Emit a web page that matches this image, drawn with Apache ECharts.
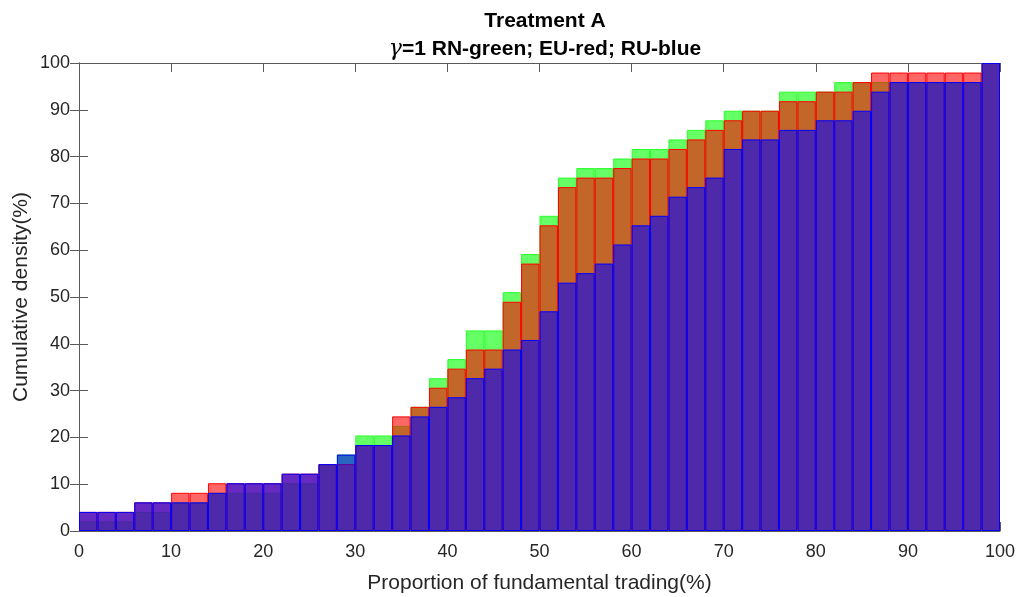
<!DOCTYPE html>
<html>
<head>
<meta charset="utf-8">
<script src="https://cdn.jsdelivr.net/npm/echarts@6/dist/echarts.min.js"></script>
<style>html,body{margin:0;padding:0;background:#fff;}#c{width:1021px;height:597px;}</style>
</head>
<body>
<div id="c"></div>
<script>
// Bins of width 2 over 0..100 (labels = bin ranges)
const binLabels = ['0-2','2-4','4-6','6-8','8-10','10-12','12-14','14-16','16-18','18-20',
  '20-22','22-24','24-26','26-28','28-30','30-32','32-34','34-36','36-38','38-40',
  '40-42','42-44','44-46','46-48','48-50','50-52','52-54','54-56','56-58','58-60',
  '60-62','62-64','64-66','66-68','68-70','70-72','72-74','74-76','76-78','78-80',
  '80-82','82-84','84-86','86-88','88-90','90-92','92-94','94-96','96-98','98-100'];

// RN (green) cumulative density, %
const rnGreen = [2.04,2.04,2.04,4.08,4.08,6.12,6.12,8.16,8.16,8.16,
  8.16,10.20,10.20,14.29,16.33,20.41,20.41,22.45,26.53,32.65,
  36.73,42.86,42.86,51.02,59.18,67.35,75.51,77.55,77.55,79.59,
  81.63,81.63,83.67,85.71,87.76,89.80,89.80,89.80,93.88,93.88,
  93.88,95.92,95.92,95.92,95.92,95.92,95.92,95.92,95.92,100];

// EU (red) cumulative density, %
const euRed = [4.08,4.08,4.08,6.12,6.12,8.16,8.16,10.20,10.20,10.20,
  10.20,12.24,12.24,14.29,14.29,18.37,18.37,24.49,26.53,30.61,
  34.69,38.78,38.78,48.98,57.14,65.31,73.47,75.51,75.51,77.55,
  79.59,79.59,81.63,83.67,85.71,87.76,89.80,89.80,91.84,91.84,
  93.88,93.88,95.92,97.96,97.96,97.96,97.96,97.96,97.96,100];

// RU (blue) cumulative density, %
const ruBlue = [4.08,4.08,4.08,6.12,6.12,6.12,6.12,8.16,10.20,10.20,
  10.20,12.24,12.24,14.29,16.33,18.37,18.37,20.41,24.49,26.53,
  28.57,32.65,34.69,38.78,40.82,46.94,53.06,55.10,57.14,61.22,
  65.31,67.35,71.43,73.47,75.51,81.63,83.67,83.67,85.71,85.71,
  87.76,87.76,89.80,93.88,95.92,95.92,95.92,95.92,95.92,100];

const xTicks = {min: 0, max: 100, interval: 10};
const yTicks = {min: 0, max: 100, interval: 10};

const chart = echarts.init(document.getElementById('c'), null, {renderer: 'canvas'});
const axisCol = '#5a5a5a';
const labCol = '#262626';
const font = 'Liberation Sans, Arial, Helvetica, sans-serif';

function barSeries(name, data, fill, edge) {
  return {
    name, type: 'bar', data, xAxisIndex: 0, yAxisIndex: 0,
    barGap: '-100%', barCategoryGap: '0%',
    itemStyle: {color: fill, borderColor: edge, borderWidth: 1},
    emphasis: {disabled: true}
  };
}

chart.setOption({
  animation: false,
  backgroundColor: '#fff',
  textStyle: {fontFamily: font},
  title: [
    {text: 'Treatment A', left: 540, textAlign: 'center', top: 6,
     textStyle: {fontSize: 21, fontWeight: 'bold', color: '#000', fontFamily: font}},
    {text: '{g|γ}=1 RN-green; EU-red; RU-blue', left: 540, textAlign: 'center', top: 33,
     textStyle: {fontSize: 21, fontWeight: 'bold', color: '#000', fontFamily: font,
       rich: {g: {fontSize: 22, fontStyle: 'italic', fontWeight: 'normal', fontFamily: 'DejaVu Serif, serif', color: '#000'}}}}
  ],
  grid: {left: 79, right: 21, top: 63, bottom: 66, containLabel: false, outerBoundsMode: 'none'},
  xAxis: [
    {type: 'category', data: binLabels, show: false, boundaryGap: true},
    {type: 'value', position: 'bottom', min: xTicks.min, max: xTicks.max, interval: xTicks.interval,
     name: 'Proportion of fundamental trading(%)', nameLocation: 'middle', nameGap: 42, nameMoveOverlap: false,
     nameTextStyle: {fontSize: 21, color: labCol, fontFamily: font},
     axisLine: {show: true, lineStyle: {color: axisCol, width: 1}},
     axisTick: {show: true, inside: true, length: 9, lineStyle: {color: axisCol}},
     axisLabel: {fontSize: 18, color: labCol, margin: 12, fontFamily: font},
     splitLine: {show: false}},
    {type: 'value', position: 'top', min: xTicks.min, max: xTicks.max, interval: xTicks.interval,
     axisLine: {show: true, lineStyle: {color: axisCol, width: 1}},
     axisTick: {show: true, inside: true, length: 9, lineStyle: {color: axisCol}},
     axisLabel: {show: false}, splitLine: {show: false}}
  ],
  yAxis: [
    {type: 'value', position: 'left', min: yTicks.min, max: yTicks.max, interval: yTicks.interval,
     name: 'Cumulative density(%)', nameLocation: 'middle', nameGap: 47, nameRotate: 90, nameMoveOverlap: false,
     nameTextStyle: {fontSize: 21, color: labCol, fontFamily: font},
     axisLine: {show: true, lineStyle: {color: axisCol, width: 1}},
     axisTick: {show: true, inside: true, length: 9, lineStyle: {color: axisCol}},
     axisLabel: {fontSize: 18, color: labCol, margin: 9, fontFamily: font},
     splitLine: {show: false}},
    {type: 'value', position: 'right', min: yTicks.min, max: yTicks.max, interval: yTicks.interval,
     axisLine: {show: true, lineStyle: {color: axisCol, width: 1}},
     axisTick: {show: true, inside: true, length: 9, lineStyle: {color: axisCol}},
     axisLabel: {show: false}, splitLine: {show: false}}
  ],
  series: [
    barSeries('RN', rnGreen, 'rgba(0,255,0,0.6)', 'rgb(40,255,40)'),
    barSeries('EU', euRed, 'rgba(255,0,0,0.6)', 'rgb(255,0,0)'),
    barSeries('RU', ruBlue, 'rgba(0,0,255,0.6)', 'rgb(0,0,255)')
  ]
});
</script>
</body>
</html>
